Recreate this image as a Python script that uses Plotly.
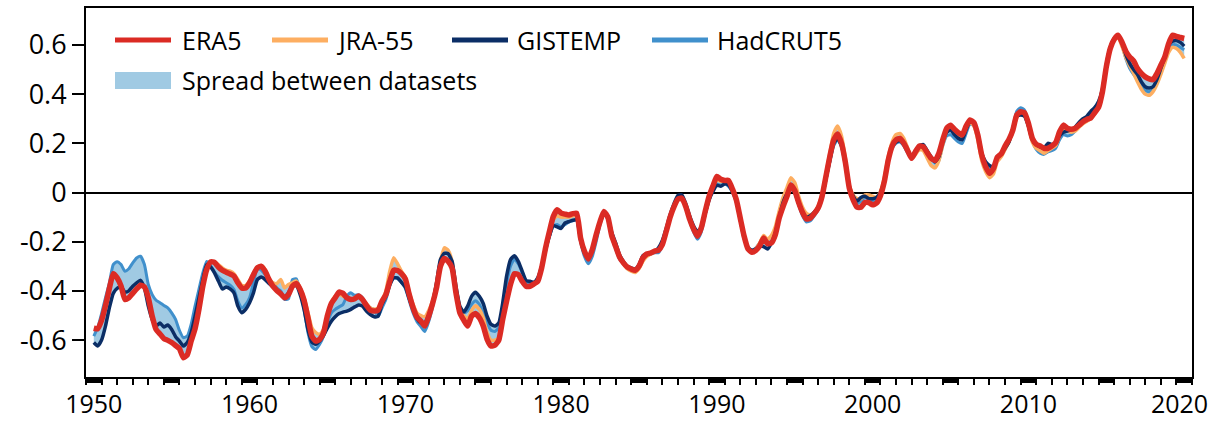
import numpy as np
import plotly.graph_objects as go

# Quarter-year grid, 12-month running means of global surface temperature anomalies (°C)
start_year = 1950.5
step = 0.25

era5 = [
    -0.552, -0.554, -0.520, -0.460,
    -0.390, -0.330, -0.347, -0.380,
    -0.435, -0.428, -0.410, -0.392,
    -0.377, -0.384, -0.428, -0.503,
    -0.557, -0.575, -0.594, -0.601,
    -0.610, -0.622, -0.635, -0.672,
    -0.660, -0.604, -0.554, -0.475,
    -0.381, -0.313, -0.282, -0.284,
    -0.303, -0.316, -0.324, -0.331,
    -0.340, -0.367, -0.388, -0.388,
    -0.367, -0.334, -0.306, -0.300,
    -0.320, -0.354, -0.381, -0.398,
    -0.412, -0.428, -0.415, -0.381,
    -0.370, -0.394, -0.438, -0.510,
    -0.584, -0.604, -0.597, -0.570,
    -0.500, -0.451, -0.428, -0.405,
    -0.410, -0.428, -0.435, -0.432,
    -0.421, -0.435, -0.459, -0.478,
    -0.482, -0.478, -0.442, -0.415,
    -0.361, -0.316, -0.317, -0.330,
    -0.351, -0.415, -0.469, -0.507,
    -0.523, -0.543, -0.503, -0.451,
    -0.388, -0.300, -0.268, -0.280,
    -0.307, -0.408, -0.489, -0.519,
    -0.543, -0.503, -0.492, -0.509,
    -0.543, -0.597, -0.624, -0.621,
    -0.600, -0.516, -0.442, -0.374,
    -0.330, -0.334, -0.361, -0.381,
    -0.381, -0.372, -0.361, -0.307,
    -0.226, -0.158, -0.097, -0.070,
    -0.084, -0.088, -0.091, -0.086,
    -0.084, -0.185, -0.239, -0.270,
    -0.232, -0.172, -0.118, -0.077,
    -0.100, -0.176, -0.219, -0.262,
    -0.286, -0.303, -0.311, -0.316,
    -0.300, -0.266, -0.250, -0.246,
    -0.238, -0.235, -0.212, -0.158,
    -0.100, -0.057, -0.027, -0.023,
    -0.057, -0.108, -0.148, -0.178,
    -0.144, -0.077, -0.016, 0.027,
    0.065, 0.054, 0.049, 0.049,
    0.014, -0.030, -0.104, -0.178,
    -0.230, -0.243, -0.235, -0.216,
    -0.185, -0.208, -0.205, -0.172,
    -0.104, -0.057, -0.016, 0.031,
    0.008, -0.041, -0.081, -0.108,
    -0.104, -0.086, -0.063, -0.016,
    0.065, 0.146, 0.214, 0.238,
    0.200, 0.122, 0.018, -0.030,
    -0.060, -0.060, -0.041, -0.041,
    -0.050, -0.043, -0.013, 0.045,
    0.132, 0.189, 0.214, 0.220,
    0.200, 0.170, 0.139, 0.166,
    0.189, 0.186, 0.162, 0.139,
    0.130, 0.159, 0.214, 0.261,
    0.273, 0.257, 0.243, 0.234,
    0.270, 0.295, 0.284, 0.234,
    0.153, 0.105, 0.078, 0.097,
    0.143, 0.157, 0.189, 0.216,
    0.254, 0.315, 0.328, 0.324,
    0.281, 0.220, 0.196, 0.189,
    0.180, 0.180, 0.189, 0.203,
    0.247, 0.274, 0.261, 0.257,
    0.261, 0.274, 0.288, 0.297,
    0.303, 0.324, 0.346, 0.409,
    0.511, 0.585, 0.622, 0.639,
    0.612, 0.574, 0.551, 0.535,
    0.504, 0.484, 0.470, 0.462,
    0.459, 0.484, 0.518, 0.551,
    0.605, 0.639, 0.635, 0.630,
    0.626,
]

jra55 = [
    None, None, None, None,
    None, None, None, None,
    None, None, None, None,
    None, None, None, None,
    None, None, None, None,
    None, None, None, None,
    None, None, None, None,
    None, None, -0.280, -0.281,
    -0.293, -0.307, -0.316, -0.320,
    -0.330, -0.354, -0.378, -0.378,
    -0.360, -0.327, -0.303, -0.297,
    -0.313, -0.351, -0.367, -0.370,
    -0.354, -0.388, -0.374, -0.367,
    -0.360, -0.388, -0.428, -0.489,
    -0.550, -0.570, -0.577, -0.557,
    -0.496, -0.448, -0.421, -0.415,
    -0.421, -0.428, -0.435, -0.428,
    -0.421, -0.435, -0.451, -0.469,
    -0.475, -0.470, -0.440, -0.400,
    -0.320, -0.265, -0.290, -0.320,
    -0.345, -0.405, -0.455, -0.490,
    -0.500, -0.505, -0.480, -0.440,
    -0.370, -0.280, -0.225, -0.235,
    -0.280, -0.390, -0.470, -0.500,
    -0.515, -0.480, -0.460, -0.475,
    -0.510, -0.570, -0.600, -0.600,
    -0.590, -0.510, -0.430, -0.370,
    -0.330, -0.330, -0.360, -0.380,
    -0.380, -0.375, -0.360, -0.310,
    -0.230, -0.165, -0.110, -0.095,
    -0.100, -0.100, -0.100, -0.095,
    -0.095, -0.185, -0.240, -0.270,
    -0.235, -0.175, -0.120, -0.085,
    -0.105, -0.170, -0.215, -0.260,
    -0.290, -0.310, -0.320, -0.325,
    -0.310, -0.280, -0.260, -0.250,
    -0.240, -0.235, -0.205, -0.155,
    -0.100, -0.055, -0.025, -0.020,
    -0.055, -0.105, -0.145, -0.170,
    -0.140, -0.075, -0.015, 0.025,
    0.050, 0.045, 0.045, 0.040,
    0.010, -0.035, -0.105, -0.180,
    -0.225, -0.240, -0.230, -0.205,
    -0.175, -0.190, -0.175, -0.140,
    -0.075, -0.020, 0.020, 0.060,
    0.040, -0.015, -0.060, -0.085,
    -0.090, -0.080, -0.055, -0.005,
    0.075, 0.160, 0.240, 0.270,
    0.230, 0.140, 0.030, -0.010,
    -0.025, -0.025, -0.010, -0.010,
    -0.015, -0.020, 0.005, 0.060,
    0.145, 0.205, 0.235, 0.240,
    0.220, 0.180, 0.140, 0.155,
    0.175, 0.170, 0.140, 0.110,
    0.100, 0.130, 0.195, 0.250,
    0.265, 0.250, 0.235, 0.225,
    0.260, 0.285, 0.270, 0.215,
    0.130, 0.085, 0.060, 0.075,
    0.125, 0.145, 0.175, 0.205,
    0.250, 0.305, 0.320, 0.315,
    0.270, 0.205, 0.180, 0.170,
    0.160, 0.170, 0.180, 0.190,
    0.230, 0.260, 0.250, 0.245,
    0.250, 0.265, 0.280, 0.290,
    0.300, 0.320, 0.345, 0.410,
    0.510, 0.585, 0.625, 0.630,
    0.595, 0.550, 0.515, 0.485,
    0.450, 0.420, 0.400, 0.395,
    0.410, 0.440, 0.480, 0.525,
    0.570, 0.590, 0.585, 0.570,
    0.545,
]

gistemp = [
    -0.610, -0.624, -0.600, -0.543,
    -0.469, -0.410, -0.390, -0.384,
    -0.405, -0.400, -0.381, -0.367,
    -0.357, -0.388, -0.462, -0.516,
    -0.543, -0.530, -0.547, -0.539,
    -0.557, -0.586, -0.604, -0.624,
    -0.610, -0.570, -0.503, -0.428,
    -0.354, -0.293, -0.303, -0.327,
    -0.360, -0.392, -0.384, -0.392,
    -0.408, -0.462, -0.489, -0.475,
    -0.448, -0.408, -0.354, -0.344,
    -0.354, -0.370, -0.384, -0.398,
    -0.412, -0.425, -0.408, -0.381,
    -0.378, -0.415, -0.475, -0.557,
    -0.608, -0.617, -0.604, -0.581,
    -0.550, -0.523, -0.505, -0.492,
    -0.486, -0.482, -0.475, -0.465,
    -0.457, -0.462, -0.482, -0.496,
    -0.505, -0.503, -0.455, -0.422,
    -0.374, -0.347, -0.347, -0.365,
    -0.384, -0.432, -0.476, -0.513,
    -0.530, -0.530, -0.499, -0.451,
    -0.368, -0.273, -0.247, -0.249,
    -0.280, -0.381, -0.462, -0.486,
    -0.462, -0.422, -0.405, -0.422,
    -0.451, -0.503, -0.536, -0.543,
    -0.530, -0.449, -0.340, -0.273,
    -0.257, -0.280, -0.320, -0.358,
    -0.361, -0.365, -0.347, -0.300,
    -0.232, -0.176, -0.135, -0.140,
    -0.146, -0.124, -0.118, -0.113,
    -0.111, -0.192, -0.246, -0.270,
    -0.232, -0.181, -0.122, -0.086,
    -0.104, -0.162, -0.205, -0.253,
    -0.280, -0.300, -0.307, -0.311,
    -0.293, -0.257, -0.249, -0.246,
    -0.240, -0.225, -0.195, -0.145,
    -0.090, -0.045, -0.012, -0.010,
    -0.045, -0.095, -0.135, -0.160,
    -0.140, -0.085, -0.030, 0.005,
    0.030, 0.025, 0.035, 0.030,
    0.005, -0.035, -0.110, -0.185,
    -0.225, -0.235, -0.230, -0.220,
    -0.220, -0.230, -0.205, -0.165,
    -0.100, -0.040, -0.005, 0.015,
    0.000, -0.045, -0.085, -0.100,
    -0.095, -0.080, -0.060, -0.020,
    0.055, 0.130, 0.200, 0.220,
    0.190, 0.120, 0.025, -0.015,
    -0.035, -0.020, -0.015, -0.025,
    -0.025, -0.020, 0.000, 0.050,
    0.130, 0.185, 0.205, 0.210,
    0.195, 0.165, 0.150, 0.170,
    0.190, 0.195, 0.170, 0.145,
    0.125, 0.145, 0.205, 0.245,
    0.255, 0.235, 0.220, 0.215,
    0.255, 0.290, 0.280, 0.240,
    0.160, 0.125, 0.110, 0.105,
    0.145, 0.160, 0.180, 0.205,
    0.260, 0.310, 0.315, 0.310,
    0.270, 0.215, 0.195, 0.185,
    0.180, 0.200, 0.195, 0.200,
    0.230, 0.245, 0.250, 0.255,
    0.265, 0.285, 0.300, 0.310,
    0.330, 0.345, 0.370, 0.420,
    0.520, 0.590, 0.625, 0.635,
    0.610, 0.560, 0.525, 0.500,
    0.480, 0.450, 0.430, 0.425,
    0.430, 0.460, 0.505, 0.550,
    0.600, 0.615, 0.618, 0.610,
    0.595,
]

hadcrut5 = [
    -0.584, -0.550, -0.492, -0.428,
    -0.367, -0.293, -0.281, -0.293,
    -0.320, -0.310, -0.286, -0.266,
    -0.259, -0.293, -0.374, -0.415,
    -0.438, -0.448, -0.459, -0.469,
    -0.489, -0.516, -0.561, -0.590,
    -0.584, -0.536, -0.462, -0.394,
    -0.327, -0.280, -0.297, -0.324,
    -0.343, -0.357, -0.367, -0.377,
    -0.394, -0.442, -0.469, -0.455,
    -0.428, -0.367, -0.310, -0.316,
    -0.334, -0.354, -0.367, -0.388,
    -0.400, -0.435, -0.432, -0.354,
    -0.351, -0.400, -0.475, -0.570,
    -0.627, -0.638, -0.617, -0.584,
    -0.530, -0.489, -0.475, -0.465,
    -0.455, -0.421, -0.408, -0.418,
    -0.416, -0.428, -0.455, -0.469,
    -0.475, -0.505, -0.470, -0.435,
    -0.380, -0.345, -0.350, -0.365,
    -0.390, -0.440, -0.490, -0.525,
    -0.545, -0.565, -0.525, -0.465,
    -0.390, -0.310, -0.275, -0.280,
    -0.310, -0.400, -0.470, -0.490,
    -0.480, -0.455, -0.440, -0.455,
    -0.490, -0.530, -0.560, -0.565,
    -0.550, -0.470, -0.370, -0.300,
    -0.270, -0.290, -0.325, -0.360,
    -0.370, -0.370, -0.355, -0.310,
    -0.240, -0.180, -0.135, -0.130,
    -0.140, -0.130, -0.120, -0.115,
    -0.110, -0.200, -0.260, -0.290,
    -0.260, -0.200, -0.130, -0.085,
    -0.110, -0.180, -0.230, -0.270,
    -0.290, -0.310, -0.315, -0.315,
    -0.300, -0.265, -0.250, -0.250,
    -0.245, -0.245, -0.215, -0.165,
    -0.105, -0.060, -0.025, -0.020,
    -0.060, -0.115, -0.160, -0.190,
    -0.160, -0.090, -0.030, 0.010,
    0.035, 0.030, 0.035, 0.025,
    0.000, -0.040, -0.110, -0.180,
    -0.220, -0.235, -0.225, -0.205,
    -0.190, -0.205, -0.200, -0.170,
    -0.110, -0.050, -0.010, 0.020,
    0.000, -0.050, -0.095, -0.120,
    -0.115, -0.095, -0.070, -0.025,
    0.050, 0.125, 0.190, 0.215,
    0.185, 0.105, 0.010, -0.030,
    -0.045, -0.035, -0.020, -0.025,
    -0.035, -0.030, -0.005, 0.050,
    0.130, 0.180, 0.200, 0.205,
    0.190, 0.160, 0.145, 0.160,
    0.175, 0.180, 0.160, 0.140,
    0.120, 0.130, 0.190, 0.230,
    0.235, 0.220, 0.205, 0.200,
    0.240, 0.280, 0.270, 0.225,
    0.150, 0.110, 0.095, 0.100,
    0.135, 0.150, 0.175, 0.205,
    0.265, 0.330, 0.345, 0.335,
    0.285, 0.210, 0.175, 0.160,
    0.155, 0.165, 0.170, 0.180,
    0.215, 0.235, 0.230, 0.235,
    0.250, 0.270, 0.285, 0.300,
    0.320, 0.335, 0.360, 0.420,
    0.520, 0.590, 0.625, 0.635,
    0.600, 0.545, 0.505, 0.480,
    0.460, 0.430, 0.415, 0.410,
    0.420, 0.450, 0.490, 0.535,
    0.585, 0.600, 0.600, 0.590,
    0.580,
]

decade_labels = ["1950", "1960", "1970", "1980", "1990", "2000", "2010", "2020"]
y_tick_values = [-0.6, -0.4, -0.2, 0.0, 0.2, 0.4, 0.6]
y_tick_labels = ["-0.6", "-0.4", "-0.2", "0", "0.2", "0.4", "0.6"]

years = start_year + step * np.arange(len(era5))

# Envelope of all datasets at each time step
stack = np.array([[np.nan if v is None else v for v in s]
                  for s in (era5, jra55, gistemp, hadcrut5)], dtype=float)
spread_lo = np.nanmin(stack, axis=0)
spread_hi = np.nanmax(stack, axis=0)

C_ERA5 = "#db2b24"
C_JRA = "#fdae61"
C_GIS = "#0b2e66"
C_HAD = "#4090cc"
C_SPREAD = "#a0cae3"
FONT = "Open Sans"

fig = go.Figure()
fig.add_trace(go.Scatter(x=years, y=spread_hi, mode="lines",
                         line=dict(width=0, color=C_SPREAD, shape="spline", smoothing=0.5),
                         hoverinfo="skip", showlegend=False))
fig.add_trace(go.Scatter(x=years, y=spread_lo, mode="lines", fill="tonexty",
                         fillcolor=C_SPREAD,
                         line=dict(width=0, color=C_SPREAD, shape="spline", smoothing=0.5),
                         name="Spread between datasets", showlegend=False))

series = [
    ("HadCRUT5", hadcrut5, C_HAD, 3.0),
    ("JRA-55", jra55, C_JRA, 3.5),
    ("GISTEMP", gistemp, C_GIS, 3.5),
    ("ERA5", era5, C_ERA5, 5.5),
]
for name, vals, color, width in series:
    fig.add_trace(go.Scatter(x=years, y=vals, mode="lines", name=name,
                             connectgaps=False, showlegend=False,
                             line=dict(color=color, width=width,
                                       shape="spline", smoothing=0.5)))

# Plot-area geometry in pixels
W, H = 1209, 421
L, R, T, B = 86, 1192, 8, 377
pw, ph = R - L, B - T
x_min, x_max = 1950, 2021


def px_x(x):
    return (x - L) / pw


def px_y(y):
    return (B - y) / ph


shapes = []
# Black blocks on the time axis every fifth year
for yr in range(1950, 2021, 5):
    shapes.append(dict(type="rect", xref="x", yref="paper",
                       x0=yr, x1=yr + 1, y0=-6 / ph, y1=0,
                       fillcolor="black", line=dict(width=0), layer="above"))

# Legend drawn as samples plus text
legend_lines = [("ERA5", C_ERA5, 115, 171, 180),
                ("JRA-55", C_JRA, 272, 328, 335),
                ("GISTEMP", C_GIS, 452, 508, 515),
                ("HadCRUT5", C_HAD, 652, 708, 715)]
annotations = []
row1_y = 40
for label, color, xa, xb, xt in legend_lines:
    shapes.append(dict(type="line", xref="paper", yref="paper",
                       x0=px_x(xa), x1=px_x(xb), y0=px_y(row1_y), y1=px_y(row1_y),
                       line=dict(color=color, width=5), layer="above"))
    annotations.append(dict(text=label, xref="paper", yref="paper",
                            x=px_x(xt), y=px_y(row1_y), xanchor="left", yanchor="middle",
                            showarrow=False, font=dict(family=FONT, size=25, color="black")))
row2_y = 80
shapes.append(dict(type="rect", xref="paper", yref="paper",
                   x0=px_x(115), x1=px_x(171), y0=px_y(row2_y + 9), y1=px_y(row2_y - 8),
                   fillcolor=C_SPREAD, line=dict(width=0), layer="above"))
annotations.append(dict(text="Spread between datasets", xref="paper", yref="paper",
                        x=px_x(180), y=px_y(row2_y), xanchor="left", yanchor="middle",
                        showarrow=False, font=dict(family=FONT, size=25, color="black")))

# Decade labels sit mid-year; the last one is nudged so it stays on the page
label_pos = [min(int(t) + 0.5, x_max - 0.8) for t in decade_labels]

fig.update_layout(
    width=W, height=H,
    margin=dict(l=L, r=W - R, t=T, b=H - B),
    paper_bgcolor="white", plot_bgcolor="white",
    font=dict(family=FONT, size=27, color="black"),
    showlegend=False,
    shapes=shapes, annotations=annotations,
    xaxis=dict(range=[x_min, x_max], showgrid=False, zeroline=False, automargin=False,
               showline=True, linecolor="black", linewidth=2, mirror=True,
               tickmode="array",
               tickvals=label_pos,
               ticktext=decade_labels, ticklabeloverflow="allow",
               ticks="outside", ticklen=4, tickcolor="rgba(0,0,0,0)",
               minor=dict(ticks="outside", ticklen=6, tickwidth=1.5,
                          tickcolor="black", tickmode="array",
                          tickvals=list(range(1950, 2022))),
               tickfont=dict(family=FONT, size=25)),
    yaxis=dict(range=[-0.75, 0.75], showgrid=False, automargin=False,
               zeroline=True, zerolinecolor="black", zerolinewidth=2,
               showline=True, linecolor="black", linewidth=2, mirror=True,
               tickmode="array", tickvals=y_tick_values, ticktext=y_tick_labels,
               ticks="outside", ticklen=12, tickwidth=2, tickcolor="black",
               ticklabeloverflow="allow",
               tickfont=dict(family=FONT, size=27)),
)

fig.write_html("out.html")
